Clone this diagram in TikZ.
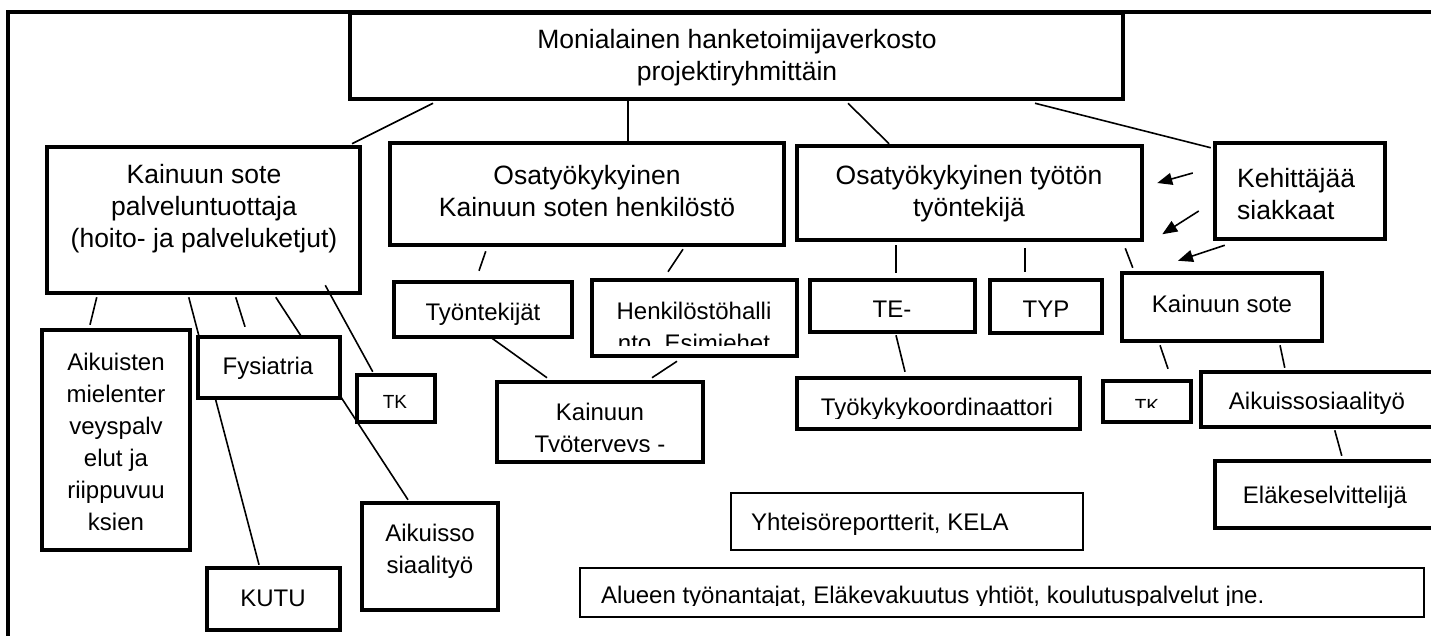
\documentclass[tikz,border=0pt]{standalone}
\usepackage{fontspec}
\setmainfont{Liberation Sans}
\usetikzlibrary{calc,positioning,arrows.meta,backgrounds}

\newcommand{\hdfont}{\fontsize{26.5}{32}\selectfont}
\newcommand{\bxfont}{\fontsize{24}{32}\selectfont}
\newcommand{\tkfont}{\fontsize{19}{22}\selectfont}

\tikzset{
  box/.style={draw=black, line width=4.5pt, fill=white, rectangle, inner sep=0pt},
  thinbox/.style={draw=black, line width=1.5pt, fill=white, rectangle, inner sep=0pt},
  txt/.style={inner sep=0pt, align=center, font=\bxfont},
  hdtxt/.style={txt, font=\hdfont},
  link/.style={line width=1.6pt},
  pointer/.style={line width=1.6pt, -{Triangle[length=15pt,width=12pt]}},
  frame/.style={line width=4pt}
}

\begin{document}
\begin{tikzpicture}[x=1pt, y=-1pt]
    \useasboundingbox (0,0) rectangle (1431,635);
    \clip (0,0) rectangle (1431,635);
    % outer frame
    \draw[frame] (8,640) -- (8,12) -- (1440,12);

    % boxes
    \node[box, minimum width=773pt, minimum height=86pt] (top) at (736.5,56) {};
    \node[box, minimum width=313pt, minimum height=146pt] (sote) at (203.5,220) {};
    \node[box, minimum width=394pt, minimum height=102pt] (hlo) at (587,194) {};
    \node[box, minimum width=345pt, minimum height=94pt] (tyoton) at (969.5,193) {};
    \node[box, minimum width=170pt, minimum height=96pt] (kehit) at (1300,191) {};
    \node[box, minimum width=148pt, minimum height=220pt] (aikm) at (116,440) {};
    \node[box, minimum width=142pt, minimum height=61pt] (fys) at (269,367.5) {};
    \node[box, minimum width=78pt, minimum height=47pt] (tkl) at (396,398.5) {};
    \node[box, minimum width=136pt, minimum height=107pt] (aiks) at (430,556.5) {};
    \node[box, minimum width=133pt, minimum height=62pt] (kutu) at (273.5,599) {};
    \node[box, minimum width=178pt, minimum height=55pt] (tynt) at (483,309.5) {};
    \node[box, minimum width=205pt, minimum height=76pt] (hjo) at (694.5,318) {};
    \node[box, minimum width=206pt, minimum height=80pt] (ktt) at (600,422) {};
    \node[box, minimum width=165pt, minimum height=52pt] (te) at (892.5,306) {};
    \node[box, minimum width=112pt, minimum height=53pt] (typ) at (1046,306.5) {};
    \node[box, minimum width=283pt, minimum height=51pt] (tkoord) at (938.5,403.5) {};
    \node[box, minimum width=200pt, minimum height=68pt] (sotep) at (1222,307) {};
    \node[box, minimum width=88pt, minimum height=41pt] (tkr) at (1147,401.5) {};
    \node[box, minimum width=244pt, minimum height=55pt] (aik) at (1323,399.5) {};
    \node[box, minimum width=230pt, minimum height=67pt] (elake) at (1330,494.5) {};
    \node[thinbox, minimum width=352pt, minimum height=57pt] (yht) at (907,521.5) {};
    \node[thinbox, minimum width=844pt, minimum height=49pt] (alue) at (1002,592.5) {};

    % texts
    \node[hdtxt] (top-t) at (737,58) {Monialainen hanketoimijaverkosto\\projektiryhmittäin};
    \node[hdtxt] (sote-t) at (204,209) {Kainuun sote\\palveluntuottaja\\(hoito- ja palveluketjut)};
    \node[hdtxt] (hlo-t) at (587,191) {Osatyökykyinen\\Kainuun soten henkilöstö};
    \node[hdtxt] (tyoton-t) at (969,194) {Osatyökykyinen työtön\\työntekijä};
    \node[hdtxt, align=left, anchor=west] (kehit-t) at (1237,194) {Kehittäjää\\siakkaat};
    \node[txt] (aikm-t) at (116,442) {Aikuisten\\mielenter\\veyspalv\\elut ja\\riippuvuu\\ksien};
    \node[txt] (fys-t) at (268,368) {Fysiatria};
    \node[txt, font=\tkfont] (tkl-t) at (395,402) {TK};
    \node[txt] (aiks-t) at (430,551) {Aikuisso\\siaalityö};
    \node[txt] (kutu-t) at (273,598.5) {KUTU};
    \node[txt] (te-t) at (892,309.5) {TE-};
    \node[txt] (typ-t) at (1046,309.5) {TYP};
    \node[txt] (sotep-t) at (1222,304) {Kainuun sote};
    \node[txt] (aik-t) at (1317,403) {Aikuissosiaalityö};
    \node[txt] (elake-t) at (1325,497) {Eläkeselvittelijä};
    \node[txt, anchor=west] (yht-t) at (751,524) {Yhteisöreportterit, KELA};

    % texts cut off by their frames
    \begin{scope}
        \clip (tynt.north west) rectangle ($(tynt.south east)+(0,-15)$);
        \node[txt] (tynt-t) at (483,314) {Työntekijät};
    \end{scope}
    \begin{scope}
        \clip (hjo.north west) rectangle ($(hjo.south east)+(0,-13)$);
        \node[txt] (hjo-t) at (694,328) {Henkilöstöhalli\\nto, Esimiehet};
    \end{scope}
    \begin{scope}
        \clip (ktt.north west) rectangle ($(ktt.south east)+(0,-13)$);
        \node[txt] (ktt-t) at (600,430) {Kainuun\\Työterveys -};
    \end{scope}
    \begin{scope}
        \clip (tkoord.north west) rectangle ($(tkoord.south east)+(0,-13)$);
        \node[txt] (tkoord-t) at (937,409) {Työkykykoordinaattori};
    \end{scope}
    \begin{scope}
        \clip (tkr.north west) rectangle ($(tkr.south east)+(0,-17)$);
        \node[txt, font=\tkfont] (tkr-t) at (1147,405.8) {TK};
    \end{scope}
    \begin{scope}
        \clip (alue.north west) rectangle ($(alue.south east)+(0,-12)$);
        \node[txt, anchor=west] (alue-t) at (601,597.5) {Alueen työnantajat, Eläkevakuutus yhtiöt, koulutuspalvelut jne.};
    \end{scope}

    % connectors
    \begin{pgfonlayer}{background}
        \draw[link] ($(top.south)+(-303.5,2)$) -- ($(sote.north)+(148.5,-1)$);
        \draw[link] ($(top.south)+(-108.5,0)$) -- ($(hlo.north)+(41,0)$);
        \draw[link] ($(top.south)+(111.5,2)$) -- ($(tyoton.north)+(-80.5,0)$);
        \draw[link] ($(top.south)+(298.5,2)$) -- ($(kehit.north west)+(-2,7)$);
        \draw[link] ($(tyoton.south east)+(-19,6)$) -- ($(sotep.north west)+(13,-3)$);
        \draw[link] ($(tyoton.south)+(55.5,6)$) -- ($(typ.north)+(-21,-6)$);
        \draw[link] ($(tyoton.south)+(-73.5,3)$) -- ($(te.north)+(3.5,-5)$);
        \draw[link] ($(te.south)+(3.5,1)$) -- ($(tkoord.north)+(-33.5,-4)$);
        \draw[link] ($(sotep.south)+(-62,2)$) -- ($(tkr.north)+(21,-10)$);
        \draw[link] ($(sotep.south)+(58,2)$) -- ($(aik.north west)+(86,-2)$);
        \draw[link] ($(aik.south west)+(136,1)$) -- ($(elake.north west)+(129,-3)$);
        \draw[link] ($(hlo.south west)+(98,4)$) -- ($(tynt.north)+(-4,-9)$);
        \draw[link] ($(hlo.south)+(96,2)$) -- ($(hjo.north)+(-26.5,-6)$);
        \draw[link] ($(tynt.south)+(9,-1)$) -- ($(ktt.north)+(-53,-2)$);
        \draw[link] ($(hjo.south)+(-17.5,3)$) -- ($(ktt.north)+(52,-2)$);
        \draw[link] ($(sote.south west)+(52,2)$) -- ($(aikm.north)+(-26,-3)$);
        \draw[link] ($(sote.south west)+(144,2)$) -- ($(kutu.north)+(-14.5,-1)$);
        \draw[link] ($(sote.south west)+(191,2)$) -- ($(fys.north)+(-24,-8)$);
        \draw[link] ($(sote.south west)+(231,2)$) -- ($(aiks.north)+(-22,-1)$);
    \end{pgfonlayer}
    \draw[link] ($(sote.south east)+(-37,-10)$) -- ($(tkl.north west)+(18,-1)$);

    % arrows from the customers
    \draw[pointer] ($(kehit.west)+(-20,-18)$) -- ($(tyoton.east)+(13,-10)$);
    \draw[pointer] ($(kehit.west)+(-14,20)$) -- ($(tyoton.south east)+(18,-8)$);
    \draw[pointer] ($(kehit.south west)+(12,4)$) -- ($(sotep.north)+(-44,-10)$);
\end{tikzpicture}
\end{document}
